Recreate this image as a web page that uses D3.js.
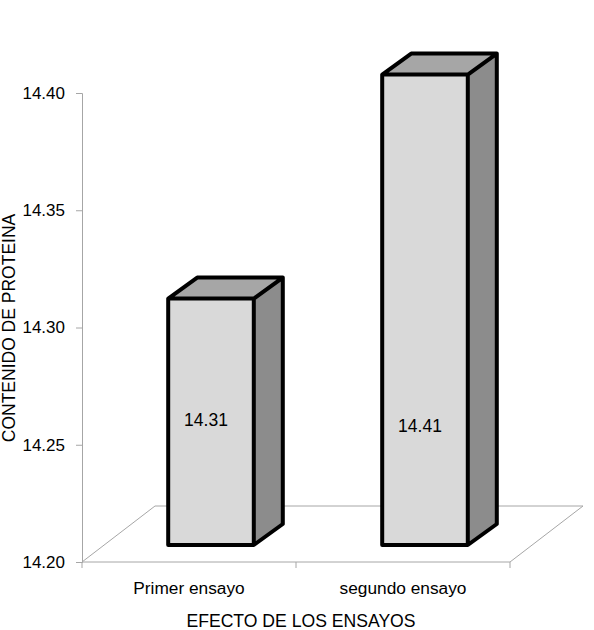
<!DOCTYPE html>
<html>
<head>
<meta charset="utf-8">
<script src="https://cdn.jsdelivr.net/npm/d3@7"></script>
<style>
  body { margin: 0; background: #fff; }
  text { font-family: "Liberation Sans", Arial, sans-serif; fill: #000; }
</style>
</head>
<body>
<div id="chart"></div>
<script>
// data
const categories = ["Primer ensayo", "segundo ensayo"];
const values = [14.31, 14.41];
const yTicks = [14.20, 14.25, 14.30, 14.35, 14.40];
const xTitle = "EFECTO DE LOS ENSAYOS";
const yTitle = "CONTENIDO DE PROTEINA";

const svgWidth = 594,
    svgHeight = 630;

// front plane (axis) and floor depth
const axisLeft = 82, axisRight = 510, axisBottom = 562, axisTop = 93;
const floorDx = 73, floorDy = -56;
// bar plane sits in the middle of the floor depth
const barShiftX = 22, barShiftY = -17;
const barDx = 29, barDy = -21;

let svg = d3.select("#chart").append("svg")
    .attr("width", svgWidth)
    .attr("height", svgHeight);

let yScale = d3.scaleLinear()
    .domain([14.20, 14.40])
    .range([axisBottom, axisTop]);

// bars are a bit further back, so slightly compressed
let yScaleBar = d3.scaleLinear()
    .domain([14.20, 14.40])
    .range([axisBottom + barShiftY, axisBottom + barShiftY - 0.2 * 2240]);

let xScale = d3.scaleBand()
    .domain(categories)
    .range([axisLeft, axisRight])
    .padding(0);

const barW = xScale.bandwidth() * 0.4;

// floor
const floorColor = "#a6a6a6";
svg.append("path")
    .attr("d", `M${axisLeft},${axisBottom} L${axisLeft + floorDx},${axisBottom + floorDy} ` +
        `L${axisRight + floorDx},${axisBottom + floorDy} L${axisRight},${axisBottom} Z`)
    .attr("fill", "none")
    .attr("stroke", floorColor)
    .attr("stroke-width", 1);

// y axis
let yAxis = svg.append("g")
    .attr("transform", `translate(${axisLeft},0)`)
    .call(d3.axisLeft(yScale).tickValues(yTicks).tickFormat(d3.format(".2f")).tickSize(6).tickPadding(11));
yAxis.select(".domain").attr("stroke", floorColor);
yAxis.selectAll(".tick line").attr("stroke", floorColor);
yAxis.selectAll(".tick text")
    .attr("font-size", 17)
    .attr("font-family", "Liberation Sans, Arial, sans-serif")
    .attr("fill", "#111");

// x axis ticks (category boundaries)
let xBounds = [axisLeft].concat(categories.map(c => xScale(c) + xScale.bandwidth()));
svg.selectAll(".xtick")
    .data(xBounds)
    .join("line")
    .attr("x1", d => d).attr("x2", d => d)
    .attr("y1", axisBottom).attr("y2", axisBottom + 6)
    .attr("stroke", floorColor);

svg.selectAll(".xlabel")
    .data(categories)
    .join("text")
    .attr("x", d => xScale(d) + xScale.bandwidth() / 2)
    .attr("y", 594)
    .attr("text-anchor", "middle")
    .attr("font-size", 17.3)
    .text(d => d);

// bars
let bars = svg.selectAll(".bar")
    .data(values)
    .join("g")
    .attr("class", "bar");

function barX(d, i) { return xScale(categories[i]) + (xScale.bandwidth() - barW) / 2 + barShiftX; }

bars.each(function (d, i) {
    let g = d3.select(this);
    let x0 = barX(d, i), x1 = x0 + barW;
    let yTop = yScaleBar(d), yBot = yScaleBar(14.20);
    // side
    g.append("path")
        .attr("d", `M${x1},${yTop} L${x1 + barDx},${yTop + barDy} L${x1 + barDx},${yBot + barDy} L${x1},${yBot} Z`)
        .attr("fill", "#8c8c8c");
    // top
    g.append("path")
        .attr("d", `M${x0},${yTop} L${x0 + barDx},${yTop + barDy} L${x1 + barDx},${yTop + barDy} L${x1},${yTop} Z`)
        .attr("fill", "#a6a6a6");
    // front
    g.append("rect")
        .attr("x", x0).attr("y", yTop)
        .attr("width", barW).attr("height", yBot - yTop)
        .attr("fill", "#d9d9d9");
    // outline
    g.append("path")
        .attr("d", `M${x0},${yBot} L${x0},${yTop} L${x0 + barDx},${yTop + barDy} L${x1 + barDx},${yTop + barDy} ` +
            `L${x1 + barDx},${yBot + barDy} L${x1},${yBot} Z M${x0},${yTop} L${x1},${yTop} L${x1},${yBot} ` +
            `M${x1},${yTop} L${x1 + barDx},${yTop + barDy}`)
        .attr("fill", "none")
        .attr("stroke", "#000")
        .attr("stroke-width", 4)
        .attr("stroke-linejoin", "round");
});

// value labels
const labelY = [14.256, 14.253];
bars.append("text")
    .attr("x", (d, i) => barX(d, i) + barW / 2 - 5)
    .attr("y", (d, i) => yScaleBar(labelY[i]) + 6)
    .attr("text-anchor", "middle")
    .attr("font-size", 17.5)
    .attr("fill", "#222")
    .text(d => d.toFixed(2));

// titles
svg.append("text")
    .attr("x", 301)
    .attr("y", 627)
    .attr("text-anchor", "middle")
    .attr("font-size", 17.6)
    .text(xTitle);

svg.append("text")
    .attr("transform", `translate(15, ${328}) rotate(-90)`)
    .attr("text-anchor", "middle")
    .attr("font-size", 17.5)
    .text(yTitle);
</script>
</body>
</html>
